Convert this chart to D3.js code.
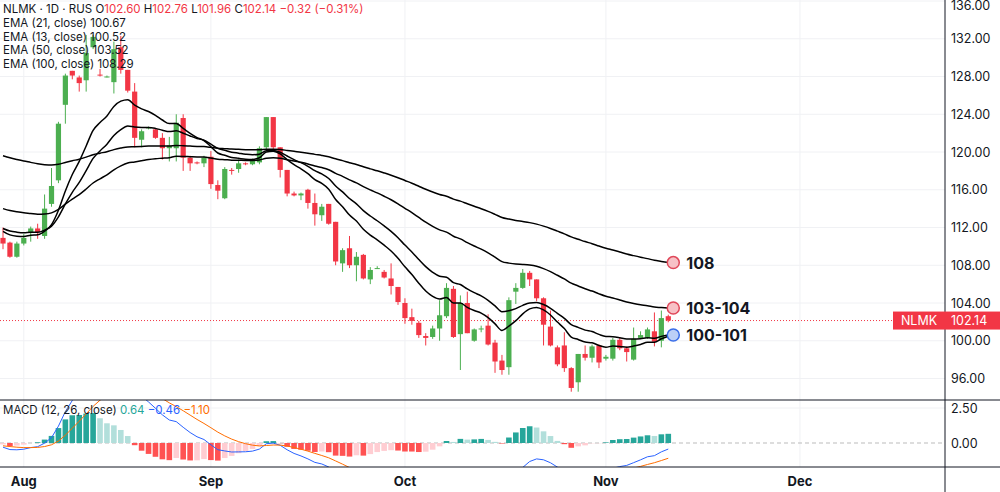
<!DOCTYPE html>
<html>
<head>
<meta charset="utf-8">
<script src="https://cdn.jsdelivr.net/npm/d3@7"></script>
<style>
  body { margin: 0; background: #fff; }
  text { font-family: "Inter", "Roboto", sans-serif; }
</style>
</head>
<body>
<div id="chart"></div>
<script>
var opens = [110.9,110.4,108.9,110.3,111.5,111.9,111.1,114.5,117.0,125.0,
  128.6,127.9,127.6,131.1,128.2,128.0,127.4,131.1,128.7,126.4,
  121.3,122.5,122.4,121.5,120.4,120.4,123.6,119.4,118.9,118.8,
  119.5,116.5,115.1,118.1,118.2,118.8,118.7,118.9,120.5,123.7,
  120.5,118.1,115.6,115.4,116.0,114.6,113.3,114.5,112.6,108.2,
  109.8,108.0,109.1,106.5,107.7,107.3,106.6,105.7,104.0,102.5,
  101.9,100.5,100.4,101.3,102.6,105.5,100.7,104.0,100.0,101.2,
  101.6,99.8,97.9,97.2,105.2,105.6,107.2,106.5,104.5,101.5,
  99.3,99.5,97.1,95.6,98.6,98.2,99.5,98.1,98.1,100.1,
  99.2,98.0,100.3,100.3,101.0,100.0,102.6];
var highs = [112.0,110.5,110.5,111.3,112.1,112.4,115.5,118.3,123.2,128.3,
  128.6,128.1,132.4,132.4,128.8,128.1,131.7,132.3,128.7,127.3,
  122.4,122.7,122.4,122.0,121.6,124.0,124.0,119.6,119.0,119.6,
  120.1,117.0,118.4,118.3,119.2,118.9,119.3,120.6,123.7,123.7,
  120.5,118.1,115.8,115.7,116.1,115.6,114.5,114.5,112.6,109.8,
  111.1,109.4,109.2,107.8,107.9,107.5,108.2,105.7,104.5,103.4,
  102.1,100.8,101.6,104.3,106.1,105.8,104.8,105.2,101.3,101.6,
  102.8,100.1,98.5,104.6,106.1,107.6,107.4,106.5,104.6,103.2,
  99.5,100.9,97.2,98.6,99.5,99.6,99.6,98.5,100.3,100.4,
  99.4,101.4,101.0,101.4,103.0,103.2,102.76];
var lows = [109.7,108.8,108.8,110.1,110.5,110.8,110.8,114.2,116.7,123.0,
  127.7,126.4,126.4,130.9,128.0,127.9,126.2,128.3,126.3,120.5,
  120.5,122.4,121.4,119.2,119.0,119.0,118.0,118.0,118.7,118.4,
  116.1,115.0,115.0,117.6,117.8,118.6,118.6,118.7,120.3,120.3,
  117.3,115.3,115.3,114.9,114.0,112.2,112.7,112.3,108.0,107.3,
  107.7,106.3,106.5,106.0,107.6,106.6,104.9,103.8,101.8,101.7,
  100.3,99.5,100.2,100.0,102.4,100.3,96.9,100.8,99.9,100.9,
  99.5,96.6,96.4,96.4,103.9,105.5,105.8,104.2,99.5,99.4,
  97.3,96.7,94.6,94.6,97.9,97.7,97.1,97.9,97.9,99.0,
  97.8,97.9,100.2,100.2,99.4,99.3,101.96];
var closes = [110.3,108.9,110.3,110.9,111.9,111.5,114.0,116.4,123.0,128.1,
  128.1,127.3,130.5,132.2,128.1,128.0,130.9,128.7,126.5,121.5,
  122.2,122.6,121.5,120.4,120.7,123.1,119.4,118.8,118.8,119.4,
  116.6,115.9,118.2,118.0,118.8,118.7,119.1,120.4,123.7,120.5,
  118.1,115.6,115.4,115.6,114.6,113.4,114.2,112.4,108.4,109.6,
  108.0,108.9,106.6,107.5,107.7,106.7,105.8,104.1,102.4,102.1,
  100.6,100.3,101.3,102.7,105.6,100.4,104.0,100.8,101.2,101.3,
  99.6,97.8,96.9,104.3,105.6,107.2,106.5,104.5,101.7,99.5,
  97.5,97.1,95.0,98.6,98.2,99.4,97.7,98.3,100.1,99.2,
  98.8,100.2,100.6,101.2,99.9,102.4,102.14];

// EMA lengths with starting values read at the left edge
var emaLengths = [21, 13, 50, 100];
var emaSeeds = [111.9, 111.6, 114.0, 119.6];
var emaLabels = ["100-101", null, "103-104", "108"];

var months = ["Aug", "Sep", "Oct", "Nov", "Dec"];
var monthIndex = [3, 30, 58, 87, 115];
var priceTicks = [96, 100, 104, 108, 112, 116, 120, 124, 128, 132, 136];
var macdTicks = [0, 2.5];

var W = 1000, H = 492, plotRight = 945;
var svg = d3.select("#chart").append("svg").attr("width", W).attr("height", H);

var x = d3.scaleLinear().domain([0, 96]).range([3, 3 + 6.93 * 96]);
var y = d3.scaleLinear().domain([96, 136]).range([378.5, 1]);
var ym = d3.scaleLinear().domain([0, 2.5]).range([443, 408]);

function ema(vals, n, seed) {
  var k = 2 / (n + 1), out = [], prev = seed;
  vals.forEach(function(v, i) { prev = i === 0 ? seed : prev + k * (v - prev); out.push(prev); });
  return out;
}

svg.append("defs").append("clipPath").attr("id", "cp")
  .append("rect").attr("x", 0).attr("y", 0).attr("width", plotRight).attr("height", 400);
svg.append("defs").append("clipPath").attr("id", "cm")
  .append("rect").attr("x", 0).attr("y", 400).attr("width", plotRight).attr("height", 67);

// grid
priceTicks.forEach(function(t) {
  svg.append("line").attr("x1", 0).attr("x2", plotRight).attr("y1", y(t)).attr("y2", y(t)).attr("stroke", "#f0f1f4");
  svg.append("text").attr("x", 951).attr("y", Math.max(y(t) + 4.5, 10)).attr("font-size", 12.5).attr("fill", "#131722").text(t.toFixed(2));
});
macdTicks.forEach(function(t) {
  if (t !== 0) svg.append("line").attr("x1", 0).attr("x2", plotRight).attr("y1", ym(t)).attr("y2", ym(t)).attr("stroke", "#f0f1f4");
  svg.append("text").attr("x", 951).attr("y", ym(t) + 4.5).attr("font-size", 12.5).attr("fill", "#131722").text(t.toFixed(2));
});
monthIndex.forEach(function(m, i) {
  svg.append("line").attr("x1", x(m)).attr("x2", x(m)).attr("y1", 0).attr("y2", 467).attr("stroke", "#f0f1f4");
  svg.append("text").attr("x", x(m)).attr("y", 486).attr("text-anchor", "middle")
    .attr("font-size", 13).attr("font-weight", "bold").attr("fill", "#131722").text(months[i]);
});
svg.append("line").attr("x1", 0).attr("x2", plotRight).attr("y1", ym(0)).attr("y2", ym(0))
  .attr("stroke", "#bbb").attr("stroke-dasharray", "4,3");

// last price line
var last = closes[closes.length - 1];
svg.append("line").attr("x1", 0).attr("x2", plotRight).attr("y1", y(last)).attr("y2", y(last))
  .attr("stroke", "#f23645").attr("stroke-dasharray", "1,2").attr("stroke-width", 1);

// candles
var bars = d3.range(closes.length);
var cg = svg.append("g").attr("clip-path", "url(#cp)");
bars.forEach(function(i) {
  var up = closes[i] >= opens[i], col = up ? "#4caf50" : "#f23645";
  cg.append("line").attr("x1", x(i)).attr("x2", x(i)).attr("y1", y(highs[i])).attr("y2", y(lows[i]))
    .attr("stroke", col).attr("stroke-width", 1);
  var top = y(Math.max(opens[i], closes[i])), bot = y(Math.min(opens[i], closes[i]));
  cg.append("rect").attr("x", x(i) - 2.6).attr("width", 5.2).attr("y", top)
    .attr("height", Math.max(1, bot - top)).attr("fill", col);
});

// EMAs
var emas = emaLengths.map(function(n, j) { return ema(closes, n, emaSeeds[j]); });
var line = d3.line().x(function(d, i) { return x(i); }).y(function(d) { return y(d); }).curve(d3.curveMonotoneX);
emas.forEach(function(e) {
  cg.append("path").datum(e).attr("d", line).attr("fill", "none").attr("stroke", "#000").attr("stroke-width", 1.5);
});

// end labels
emas.forEach(function(e, j) {
  if (!emaLabels[j]) return;
  var v = e[e.length - 1], blue = j === 0;
  svg.append("circle").attr("cx", x(96) + 5).attr("cy", y(v)).attr("r", 6)
    .attr("fill", blue ? "#bcd0f7" : "#f7c1c6").attr("stroke", blue ? "#3a6ee8" : "#e0485a").attr("stroke-width", 1.5);
  svg.append("text").attr("x", x(96) + 18).attr("y", y(v) + 6).attr("font-size", 16).attr("font-weight", "bold")
    .attr("fill", "#131722").text(emaLabels[j]);
});

// MACD
var e12 = ema(closes, 12, 111.3), e26 = ema(closes, 26, 111.6);
var macd = e12.map(function(v, i) { return v - e26[i]; });
var signal = ema(macd, 9, -0.2);
var hist = macd.map(function(v, i) { return v - signal[i]; });
var mg = svg.append("g").attr("clip-path", "url(#cm)");
hist.forEach(function(h, i) {
  var prev = i > 0 ? hist[i - 1] : h;
  var col = h >= 0 ? (h > prev ? "#26a69a" : "#b2dfdb") : (h < prev ? "#ff5252" : "#ffcdd2");
  mg.append("rect").attr("x", x(i) - 2.8).attr("width", 5.6)
    .attr("y", Math.min(ym(h), ym(0))).attr("height", Math.abs(ym(h) - ym(0))).attr("fill", col);
});
var mline = d3.line().x(function(d, i) { return x(i); }).y(function(d) { return ym(d); });
mg.append("path").datum(macd).attr("d", mline).attr("fill", "none").attr("stroke", "#2962ff").attr("stroke-width", 1);
mg.append("path").datum(signal).attr("d", mline).attr("fill", "none").attr("stroke", "#ff6d00").attr("stroke-width", 1);

// pane borders
svg.append("line").attr("x1", 0).attr("x2", W).attr("y1", 400).attr("y2", 400).attr("stroke", "#131722");
svg.append("line").attr("x1", 0).attr("x2", W).attr("y1", 467).attr("y2", 467).attr("stroke", "#131722");
svg.append("line").attr("x1", plotRight).attr("x2", plotRight).attr("y1", 0).attr("y2", H).attr("stroke", "#131722");

// price tag
svg.append("rect").attr("x", 893).attr("y", y(last) - 9).attr("width", 107).attr("height", 18).attr("fill", "#f23645");
svg.append("text").attr("x", 919).attr("y", y(last) + 4.5).attr("text-anchor", "middle").attr("font-size", 12.5).attr("fill", "#fff").text("NLMK");
svg.append("text").attr("x", 951).attr("y", y(last) + 4.5).attr("font-size", 12.5).attr("fill", "#fff").text(last.toFixed(2));

// legend
var lg = svg.append("text").attr("x", 3).attr("y", 13).attr("font-size", 11.5).attr("fill", "#131722");
lg.append("tspan").text("NLMK · 1D · RUS  ");
[["O", "102.60"], ["H", "102.76"], ["L", "101.96"], ["C", "102.14"]].forEach(function(p) {
  lg.append("tspan").text(p[0]);
  lg.append("tspan").attr("fill", "#f23645").text(p[1] + "  ");
});
lg.append("tspan").attr("fill", "#f23645").text("\u22120.32 (\u22120.31%)");
var emaLeg = [["EMA (21, close)", "100.67"], ["EMA (13, close)", "100.52"], ["EMA (50, close)", "103.52"], ["EMA (100, close)", "108.29"]];
emaLeg.forEach(function(r, i) {
  svg.append("text").attr("x", 3).attr("y", 27 + i * 13.5).attr("font-size", 11.5).attr("fill", "#131722")
    .text(r[0] + "  " + r[1]);
});
var ml = svg.append("text").attr("x", 3).attr("y", 414).attr("font-size", 11.5).attr("fill", "#131722");
ml.append("tspan").text("MACD (12, 26, close)  ");
ml.append("tspan").attr("fill", "#26a69a").text("0.64  ");
ml.append("tspan").attr("fill", "#2962ff").text("\u22120.46  ");
ml.append("tspan").attr("fill", "#ff6d00").text("\u22121.10");
</script>
</body>
</html>
